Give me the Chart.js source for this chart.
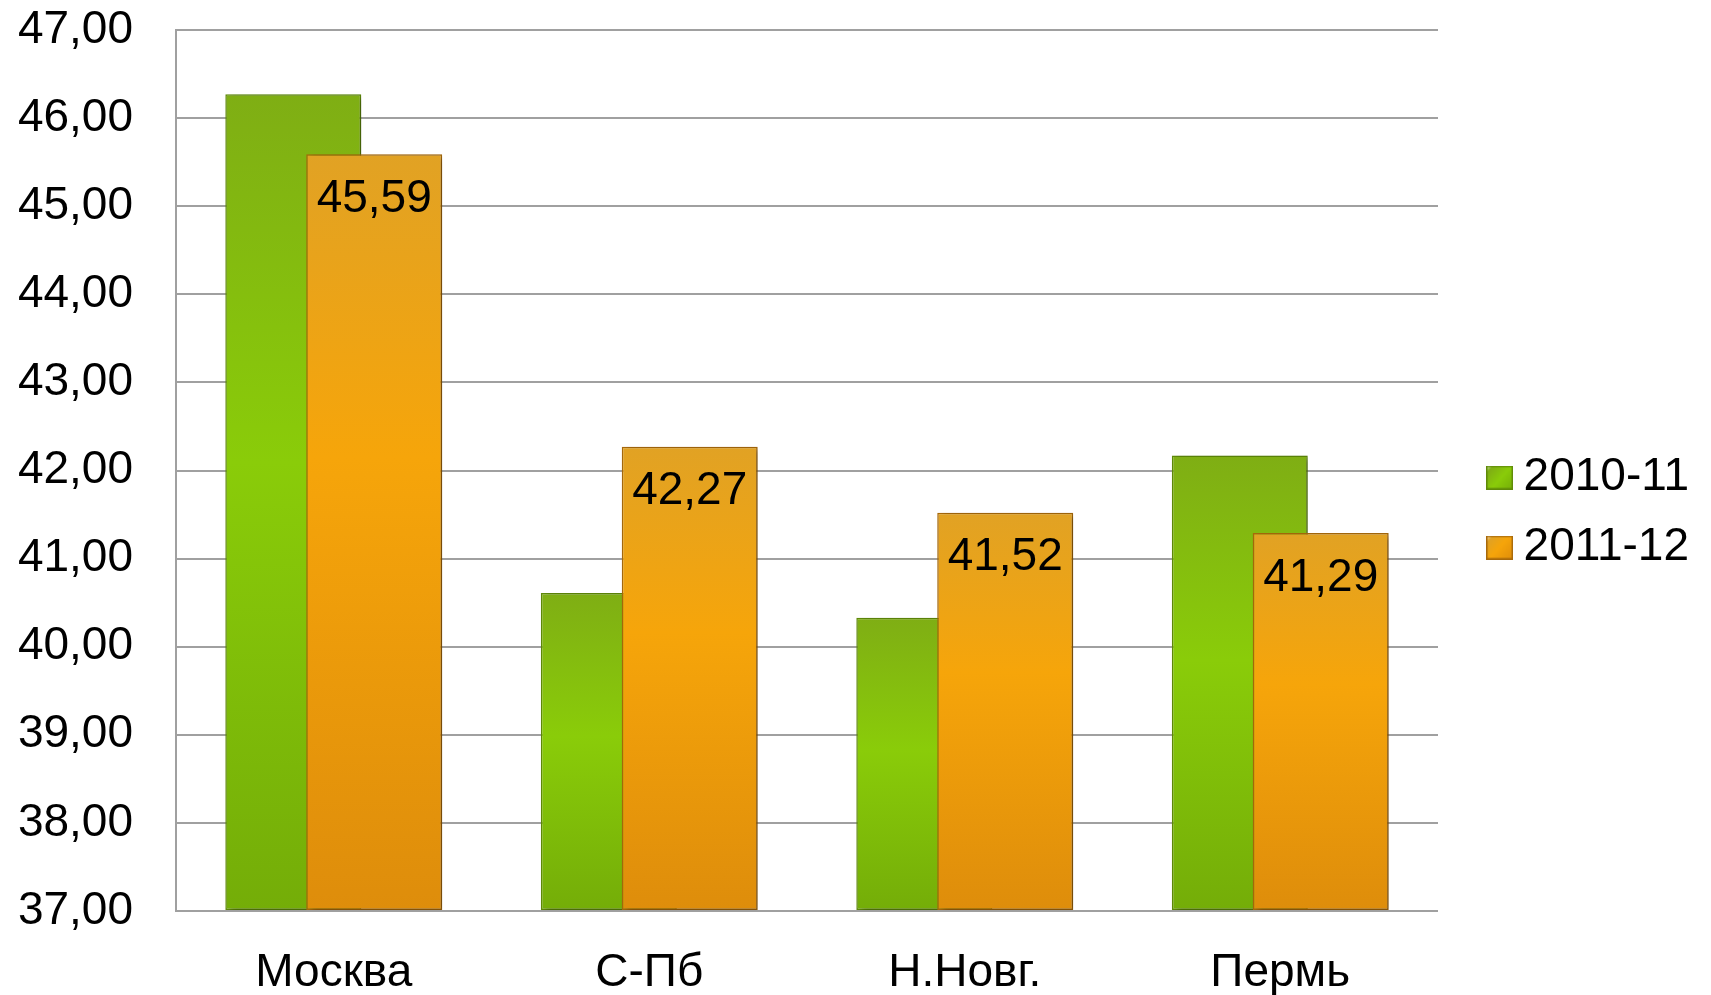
<!DOCTYPE html>
<html>
<head>
<meta charset="utf-8">
<script src="https://cdn.jsdelivr.net/npm/chart.js@4.4.1/dist/chart.umd.min.js"></script>
<style>
html,body{margin:0;padding:0;background:#fff;}
#wrap{width:1711px;height:995px;position:relative;}
</style>
</head>
<body>
<div id="wrap"><canvas id="c" width="1711" height="995"></canvas></div>
<script>
const categories = ['Москва', 'С-Пб', 'Н.Новг.', 'Пермь'];
const seriesNames = ['2010-11', '2011-12'];
const values2010 = [46.27, 40.61, 40.33, 42.17];
const values2011 = [45.59, 42.27, 41.52, 41.29];
const yMin = 37, yMax = 47, yStep = 1;

const FONT = "'Liberation Sans', Arial, sans-serif";
const fmt = v => v.toFixed(2).replace('.', ',');

const greenStops = [[0,'#7fae14'],[0.45,'#8acc09'],[1,'#74ad08']];
const orangeStops = [[0,'#e1a224'],[0.4,'#f6a50a'],[1,'#de8d0b']];

function barGradient(stops, solid) {
  return (ctx) => {
    const chart = ctx.chart;
    if (ctx.type !== 'data' || !chart.chartArea || !chart.scales.y) return solid;
    const y = chart.scales.y;
    const top = y.getPixelForValue(ctx.raw);
    const bottom = y.getPixelForValue(yMin);
    if (!isFinite(top) || !isFinite(bottom) || bottom <= top) return solid;
    const g = chart.ctx.createLinearGradient(0, top, 0, bottom);
    stops.forEach(s => g.addColorStop(s[0], s[1]));
    return g;
  };
}

function legendSwatch(stops, border) {
  const c = document.createElement('canvas');
  c.width = 27; c.height = 24;
  const x = c.getContext('2d');
  const g = x.createLinearGradient(0, 0, 27, 24);
  g.addColorStop(0, '#ffffff');
  stops.forEach(s => g.addColorStop(0.15 + s[0]*0.85, s[1]));
  x.fillStyle = border;
  x.fillRect(0, 0, 27, 24);
  x.fillStyle = g;
  x.fillRect(1.5, 1.5, 24, 21);
  return c;
}

const drawPlugin = {
  id: 'drawOrder',
  beforeDatasetsDraw(chart) {
    const ctx = chart.ctx;
    const a = chart.chartArea;
    ctx.save();
    ctx.beginPath();
    ctx.rect(a.left, a.top - 5, a.right - a.left + 20, a.bottom - a.top + 5);
    ctx.clip();
    ctx.shadowColor = 'rgba(0,0,0,0.32)';
    ctx.shadowBlur = 6;
    ctx.shadowOffsetX = 4;
    ctx.shadowOffsetY = 2;
    chart.getDatasetMeta(0).controller.draw();
    chart.getDatasetMeta(1).controller.draw();
    ctx.restore();
    ctx.save();
    ctx.font = '46px ' + FONT;
    ctx.fillStyle = '#000';
    ctx.textAlign = 'center';
    ctx.textBaseline = 'middle';
    const meta = chart.getDatasetMeta(1);
    meta.data.forEach((bar, i) => {
      ctx.fillText(fmt(values2011[i]), bar.x, bar.y + 45);
    });
    ctx.restore();
    return false;
  }
};

new Chart(document.getElementById('c'), {
  type: 'bar',
  data: {
    labels: categories,
    datasets: [
      {
        label: seriesNames[0],
        data: values2010,
        base: yMin,
        backgroundColor: barGradient(greenStops, '#84c10c'),
        borderColor: '#5f8a08',
        borderWidth: 1.5,
        borderSkipped: false,
        pointStyle: legendSwatch(greenStops, '#5f8a08'),
        categoryPercentage: 0.513,
        barPercentage: 1.68
      },
      {
        label: seriesNames[1],
        data: values2011,
        base: yMin,
        backgroundColor: barGradient(orangeStops, '#eb9c10'),
        borderColor: '#a8690a',
        borderWidth: 1.5,
        borderSkipped: false,
        pointStyle: legendSwatch(orangeStops, '#a8690a'),
        categoryPercentage: 0.513,
        barPercentage: 1.68
      }
    ]
  },
  options: {
    responsive: false,
    animation: false,
    devicePixelRatio: 1,
    layout: { padding: { top: 30, left: 18, right: 12, bottom: 0 } },
    plugins: {
      tooltip: { enabled: false },
      legend: {
        position: 'right',
        labels: {
          usePointStyle: true,
          pointStyleWidth: 2,
          boxHeight: 24,
          padding: 24,
          color: '#000',
          font: { family: FONT, size: 46 }
        }
      }
    },
    scales: {
      x: {
        grid: { display: false, drawTicks: false },
        border: { display: true, color: '#a0a0a0', width: 2 },
        ticks: { color: '#000', font: { family: FONT, size: 46 }, padding: 35 },
        afterFit: s => { s.height = 84; }
      },
      y: {
        min: yMin, max: yMax,
        grid: { color: '#a0a0a0', lineWidth: 2, drawTicks: false },
        border: { display: true, color: '#a0a0a0', width: 2 },
        ticks: {
          stepSize: yStep, color: '#000', padding: 43,
          font: { family: FONT, size: 46 },
          callback: v => fmt(v)
        },
        afterFit: s => { s.width = 158; s.paddingTop = 0; s.paddingBottom = 0; }
      },
      y2: {
        position: 'right',
        min: 0, max: 1,
        grid: { display: false, drawTicks: false },
        border: { display: false },
        ticks: { display: false },
        afterFit: s => { s.width = 36.6; s.paddingTop = 0; s.paddingBottom = 0; }
      }
    }
  },
  plugins: [drawPlugin]
});
</script>
</body>
</html>
